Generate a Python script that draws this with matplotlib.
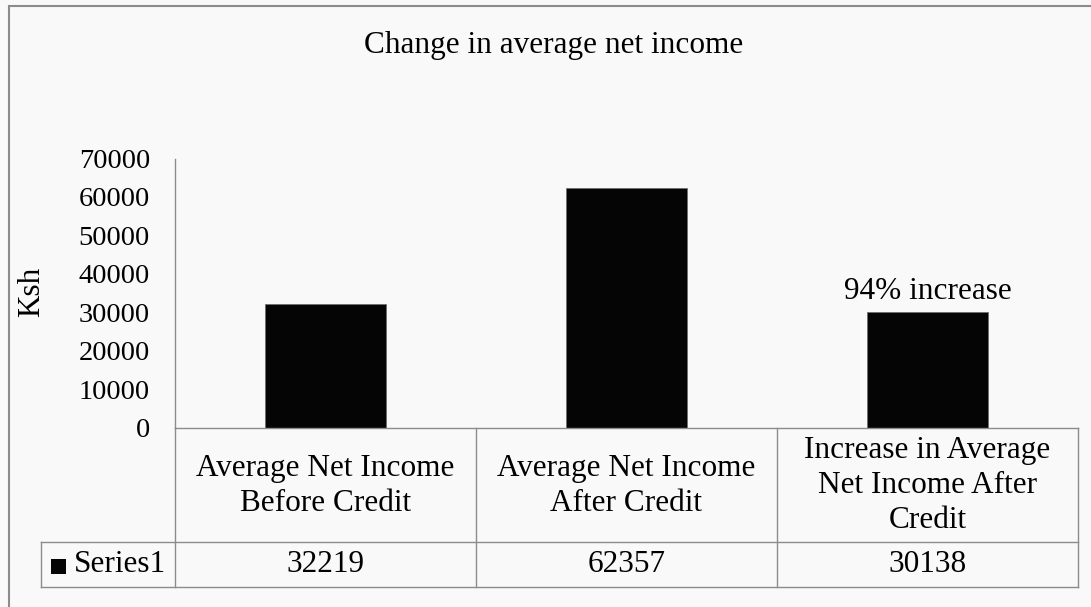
import matplotlib
matplotlib.use('Agg')
import matplotlib.pyplot as plt
from matplotlib.lines import Line2D
from matplotlib.patches import Rectangle

# data
categories = ['Average Net Income\nBefore Credit',
              'Average Net Income\nAfter Credit',
              'Increase in Average\nNet Income After\nCredit']
values = [32219, 62357, 30138]
series_name = 'Series1'
y_ticks = [0, 10000, 20000, 30000, 40000, 50000, 60000, 70000]
title = 'Change in average net income'
ylabel = 'Ksh'
bar_note = '94% increase'

W, H = 1091, 607
BG = '#f9f9f9'
GRID = '#8c8c8c'
FONT = 'Liberation Serif'
FS = 22.5

fig = plt.figure(figsize=(W / 100, H / 100), dpi=100)
fig.patch.set_facecolor(BG)


def fx(px):
    return px / W


def fy(py):
    return 1 - py / H


# plot area in pixel terms
left, right, top, zero = 175, 1078, 158.5, 427.5
hdr_bot, tbl_bot, tbl_left = 542, 587, 41
col_w = (right - left) / len(categories)

ax = fig.add_axes([fx(left), fy(zero), fx(right) - fx(left), fy(top) - fy(zero)])
ax.set_facecolor(BG)
x = range(len(values))
ax.bar(x, values, width=0.4, color='#050505', edgecolor='#6e6e6e', linewidth=0.6)
ax.set_xlim(-0.5, len(values) - 0.5)
ax.set_ylim(0, 70000)
ax.set_yticks(y_ticks)
ax.set_yticklabels([str(t) for t in y_ticks], fontfamily=FONT, fontsize=20.5)
ax.tick_params(axis='y', length=0, pad=18)
ax.set_xticks([])
for s in ['top', 'right', 'bottom']:
    ax.spines[s].set_visible(False)
ax.spines['left'].set_color(GRID)
ax.spines['left'].set_linewidth(1.0)
ax.annotate(bar_note, (2, values[2]), xytext=(0, 4), textcoords='offset points',
            ha='center', va='bottom', fontfamily=FONT, fontsize=FS)

# chart title and axis title
fig.text(fx(554), fy(46), title, ha='center', va='center', fontfamily=FONT, fontsize=FS)
fig.text(fx(32), fy(292), ylabel, ha='center', va='center', rotation=90,
         fontfamily=FONT, fontsize=FS)


def hline(y, x0, x1):
    fig.add_artist(Line2D([fx(x0), fx(x1)], [fy(y), fy(y)], color=GRID, lw=1.0))


def vline(xp, y0, y1):
    fig.add_artist(Line2D([fx(xp), fx(xp)], [fy(y0), fy(y1)], color=GRID, lw=1.0))


# data table under the axis
hline(zero, left, right)
hline(hdr_bot, tbl_left, right)
hline(tbl_bot, tbl_left, right)
vline(tbl_left, hdr_bot, tbl_bot)
vline(left, zero, tbl_bot)
for i in range(1, len(categories) + 1):
    vline(left + i * col_w, zero, tbl_bot)

for i, (cat, v) in enumerate(zip(categories, values)):
    cx = left + (i + 0.5) * col_w
    fig.text(fx(cx), fy((zero + hdr_bot) / 2 + 1), cat, ha='center', va='center',
             fontfamily=FONT, fontsize=FS, linespacing=1.27)
    fig.text(fx(cx), fy((hdr_bot + tbl_bot) / 2), str(v), ha='center', va='center',
             fontfamily=FONT, fontsize=FS)

# legend key in the row header
fig.add_artist(Rectangle((fx(51), fy(574)), fx(66) - fx(51), fy(559) - fy(574),
                         facecolor='#050505', edgecolor='none'))
fig.text(fx(74), fy((hdr_bot + tbl_bot) / 2), series_name, ha='left', va='center',
         fontfamily=FONT, fontsize=FS)

# chart frame
fig.add_artist(Rectangle((fx(8.5), fy(620)), fx(1100) - fx(8.5), fy(6.5) - fy(620),
                         facecolor='none', edgecolor=GRID, lw=1.5))

fig.savefig('out.png', dpi=100, facecolor=BG)
